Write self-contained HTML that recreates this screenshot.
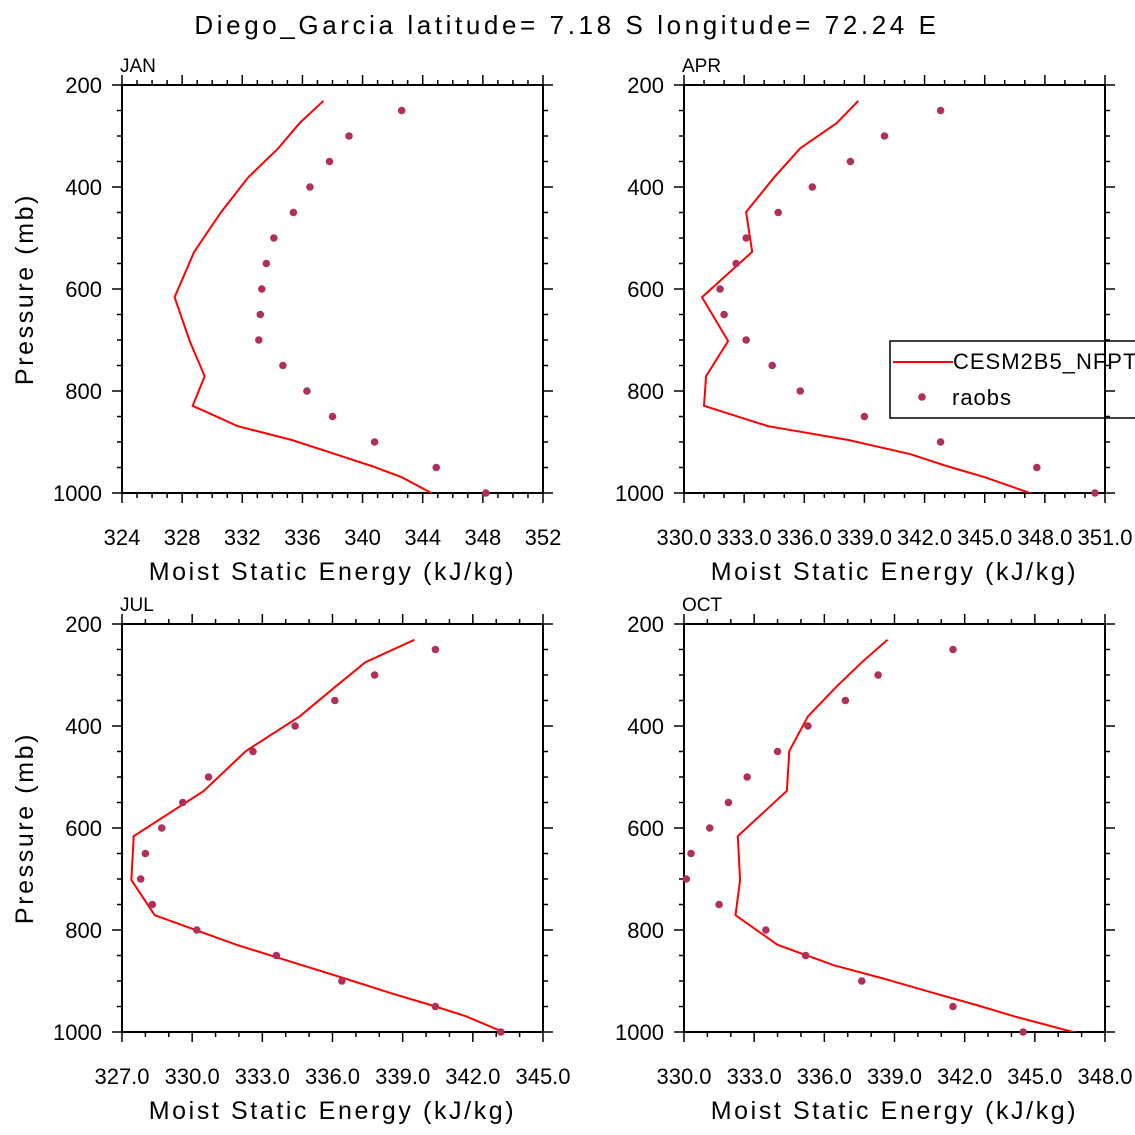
<!DOCTYPE html>
<html><head><meta charset="utf-8"><style>
html,body{margin:0;padding:0;background:#fff;}
svg{display:block;font-family:"Liberation Sans",sans-serif;}
</style></head><body>
<svg id="chart" width="1135" height="1135" viewBox="0 0 1135 1135">
<text x="567" y="34" font-size="26" text-anchor="middle" letter-spacing="3.6">Diego_Garcia  latitude= 7.18 S longitude= 72.24 E</text>
</svg>
<script>
const modelLevels=[231,275,324,381,449,527,616,702,771,829,869,896,924,947,969,1002];
const obsLevels=[250,300,350,400,450,500,550,600,650,700,750,800,850,900,950,1000];
const janModel=[337.4,335.8,334.4,332.4,330.6,328.8,327.5,328.5,329.5,328.7,331.7,335.3,338.2,340.6,342.6,344.7];
const janObs=[342.6,339.1,337.8,336.5,335.4,334.1,333.6,333.3,333.2,333.1,334.7,336.3,338.0,340.8,344.9,348.2];
const aprModel=[338.7,337.6,335.8,334.5,333.1,333.4,330.9,332.2,331.1,331.0,334.2,338.2,341.3,343.1,345.0,347.4];
const aprObs=[342.8,340.0,338.3,336.4,334.7,333.1,332.6,331.8,332.0,333.1,334.4,335.8,339.0,342.8,347.6,350.5];
const julModel=[339.5,337.4,336.1,334.6,332.3,330.5,327.5,327.4,328.4,331.9,334.7,336.6,338.5,340.2,341.7,343.4];
const julObs=[340.4,337.8,336.1,334.4,332.6,330.7,329.6,328.7,328.0,327.8,328.3,330.2,333.6,336.4,340.4,343.2];
const octModel=[338.7,337.6,336.5,335.3,334.5,334.4,332.3,332.4,332.2,334.0,336.4,338.6,340.7,342.5,344.1,346.8];
const octObs=[341.5,338.3,336.9,335.3,334.0,332.7,331.9,331.1,330.3,330.1,331.5,333.5,335.2,337.6,341.5,344.5];
const janTicks=[324,328,332,336,340,344,348,352];
const aprTicks=[330,333,336,339,342,345,348,351];
const julTicks=[327,330,333,336,339,342,345];
const octTicks=[330,333,336,339,342,345,348];
const pTicks=[200,400,600,800,1000];

const NS="http://www.w3.org/2000/svg";
const svg=document.getElementById('chart');
function mk(tag,attrs,parent){const e=document.createElementNS(NS,tag);for(const k in attrs)e.setAttribute(k,attrs[k]);(parent||svg).appendChild(e);return e;}

const lg=mk('g',{});


mk('rect',{x:890,y:341,width:260,height:77,fill:'#fff',stroke:'#000','stroke-width':1.5},lg);
mk('line',{x1:893,x2:953,y1:362,y2:362,stroke:'#ff0000','stroke-width':2},lg);
const t1=mk('text',{x:953,y:369,'font-size':22,'letter-spacing':1},lg);t1.textContent='CESM2B5_NFPT';

mk('circle',{cx:922,cy:397,r:3.8,fill:'#b0305c'},lg);
const t2=mk('text',{x:952,y:405,'font-size':22,'letter-spacing':1},lg);t2.textContent='raobs';


const panels=[
 {name:'jan',label:'JAN',x0:122,y0:85,ticks:janTicks,minor:1,dec:0,model:janModel,obs:janObs},
 {name:'apr',label:'APR',x0:684,y0:85,ticks:aprTicks,minor:1,dec:1,model:aprModel,obs:aprObs},
 {name:'jul',label:'JUL',x0:122,y0:624,ticks:julTicks,minor:1,dec:1,model:julModel,obs:julObs},
 {name:'oct',label:'OCT',x0:684,y0:624,ticks:octTicks,minor:1,dec:1,model:octModel,obs:octObs}
];
const W=421,H=408;
panels.forEach((P,pi)=>{
 const g=mk('g',{});
 
 
 const xmin=P.ticks[0],xmax=P.ticks[P.ticks.length-1];
 const xs=v=>P.x0+(v-xmin)/(xmax-xmin)*W;
 const ys=p=>P.y0+(p-200)/800*H;
 const clipId='clip'+pi;
 const cp=mk('clipPath',{id:clipId},g);mk('rect',{x:P.x0,y:P.y0,width:W,height:H},cp);
 for(let v=xmin;v<=xmax+1e-6;v+=P.minor){
  const major=P.ticks.some(t=>Math.abs(t-v)<1e-6);const L=major?10:5;const x=xs(v);
  mk('line',{x1:x,x2:x,y1:P.y0+H,y2:P.y0+H+L,stroke:'#000','stroke-width':1.5},g);
  mk('line',{x1:x,x2:x,y1:P.y0,y2:P.y0-L,stroke:'#000','stroke-width':1.5},g);
 }
 for(let p=200;p<=1000;p+=50){
  const major=pTicks.includes(p);const L=major?10:5;const y=ys(p);
  mk('line',{x1:P.x0,x2:P.x0-L,y1:y,y2:y,stroke:'#000','stroke-width':1.5},g);
  mk('line',{x1:P.x0+W,x2:P.x0+W+L,y1:y,y2:y,stroke:'#000','stroke-width':1.5},g);
 }
 P.ticks.forEach(t=>{const tx=mk('text',{x:xs(t),y:P.y0+H+52,'font-size':22,'text-anchor':'middle'},g);tx.textContent=t.toFixed(P.dec);
  });
 pTicks.forEach(p=>{const tx=mk('text',{x:P.x0-20,y:ys(p)+8,'font-size':22,'text-anchor':'end'},g);tx.textContent=p;
  });
 mk('rect',{x:P.x0,y:P.y0,width:W,height:H,fill:'none',stroke:'#000','stroke-width':2},g);
 const lab=mk('text',{x:P.x0-2,y:P.y0-13,'font-size':19},g);lab.textContent=P.label;
 
 const xt=mk('text',{x:P.x0+W/2,y:P.y0+H+87,'font-size':25,'text-anchor':'middle','letter-spacing':2.6},g);xt.textContent='Moist Static Energy (kJ/kg)';
 
 if(P.x0<300){const yt=mk('text',{x:0,y:0,'font-size':25,'text-anchor':'middle','letter-spacing':2.6,transform:`translate(33,${P.y0+H/2}) rotate(-90)`},g);yt.textContent='Pressure (mb)';
  }
 const pts=P.model.map((v,i)=>xs(v).toFixed(1)+','+ys(modelLevels[i]).toFixed(1)).join(' ');
 const pl=mk('polyline',{points:pts,fill:'none',stroke:'#ff0000','stroke-width':2,'clip-path':`url(#${clipId})`},g);
 
 P.obs.forEach((v,i)=>{const c=mk('circle',{cx:xs(v),cy:ys(obsLevels[i]),r:3.8,fill:'#b0305c'},g);
  });
});
</script>
</body></html>
